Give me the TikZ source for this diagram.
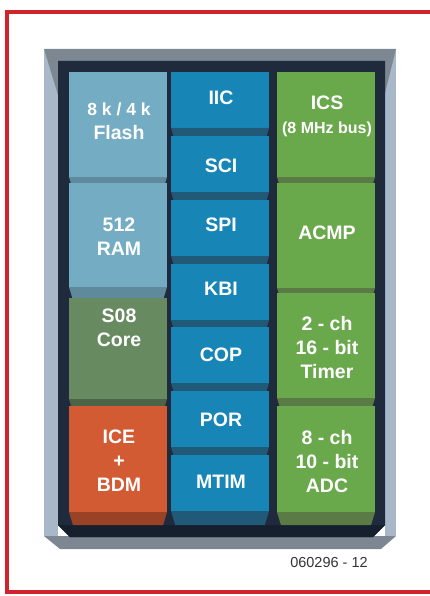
\documentclass[tikz,border=0pt]{standalone}
\usepackage{fontspec}
\setmainfont{Liberation Sans}
\definecolor{frameRed}{HTML}{D1232B}
\definecolor{trayLight}{HTML}{A9B8C9}
\definecolor{trayGray}{HTML}{7D8792}
\definecolor{trayNavy}{HTML}{1F2B3C}
\definecolor{trayShadow}{HTML}{151F2D}
\definecolor{flash}{HTML}{74ADC3}
\definecolor{flashdark}{HTML}{5F8A9D}
\definecolor{core}{HTML}{678A61}
\definecolor{coredark}{HTML}{4E6449}
\definecolor{ice}{HTML}{D35B33}
\definecolor{icedark}{HTML}{9A4225}
\definecolor{bus}{HTML}{1785B6}
\definecolor{busdark}{HTML}{215A78}
\definecolor{periph}{HTML}{69A84B}
\definecolor{periphdark}{HTML}{5A7A46}
\definecolor{labelGray}{HTML}{333333}

\begin{document}
\begin{tikzpicture}[x=1pt,y=-1pt,
  celltext/.style={text=white,inner sep=0pt,align=center,
    font=\bfseries\fontsize{19.5}{24}\selectfont},
  figlabel/.style={text=labelGray,inner sep=0pt,
    font=\fontsize{14.5}{17}\selectfont}]
\useasboundingbox (0,0) rectangle (430,596);
\draw[frameRed,line width=4pt] (440,12) -- (7,12) -- (7,592) -- (440,592);
\fill[trayLight] (44,49) rectangle (58,536);
\fill[trayLight] (385,49) rectangle (396,536);
\fill[trayGray] (44,49) -- (396,49) -- (385,93) -- (385,61) -- (58,61) -- (58,95) -- cycle;
\fill[trayGray] (44,536) -- (396,536) -- (381,549) -- (60,549) -- cycle;
\fill[trayNavy] (58,61) -- (385,61) -- (385,525) -- (373,537) -- (70,537) -- (58,525) -- cycle;
\fill[trayShadow] (58,525) -- (385,525) -- (373,537) -- (70,537) -- cycle;
\def\chipcell#1#2#3#4#5#6#7#8{%
  \fill[#6] (#2,#3) rectangle (#2+98,#4);
  \pgfmathsetmacro\bevelin{0.3*(#5-#4)}
  \fill[#6dark] (#2,#4) -- (#2+98,#4) -- (#2+98-\bevelin,#5) -- (#2+\bevelin,#5) -- cycle;
  \node[celltext] (#1) at (#2+50,#7) {#8};
}
\chipcell{flash}{69}{72}{177}{183}{flash}{121.5}{{\fontsize{17.5}{22}\selectfont 8 k / 4 k}\\Flash}
\chipcell{ram}{69}{183}{287}{298}{flash}{237}{512\\RAM}
\chipcell{core}{69}{298}{399}{406}{core}{327.5}{S08\\Core}
\chipcell{ice}{69}{406}{512}{525}{ice}{460.5}{ICE\\+\\BDM}
\chipcell{iic}{171}{72}{128}{136}{bus}{98}{IIC}
\chipcell{sci}{171}{136}{192}{200}{bus}{165.8}{SCI}
\chipcell{spi}{171}{200}{256}{264}{bus}{224.5}{SPI}
\chipcell{kbi}{171}{264}{320}{327}{bus}{289}{KBI}
\chipcell{cop}{171}{327}{383}{391}{bus}{354.5}{COP}
\chipcell{por}{171}{391}{447}{455}{bus}{419.5}{POR}
\chipcell{mtim}{171}{455}{511}{525}{bus}{481.5}{MTIM}
\chipcell{ics}{277}{72}{177}{183}{periph}{116}{ICS\\{\fontsize{16}{18}\selectfont (8 MHz bus)}}
\chipcell{acmp}{277}{183}{288}{293}{periph}{232.5}{ACMP}
\chipcell{timer}{277}{293}{398}{406}{periph}{348}{2 - ch\\16 - bit\\Timer}
\chipcell{adc}{277}{406}{512}{525}{periph}{461.5}{8 - ch\\10 - bit\\ADC}
\node[figlabel] (figno) at (329,563) {060296 - 12};
\end{tikzpicture}
\end{document}
